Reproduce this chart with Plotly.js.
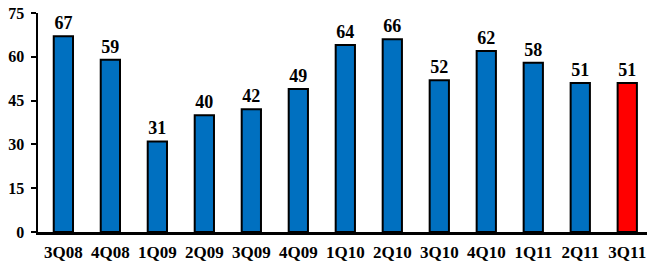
<!DOCTYPE html>
<html>
<head>
<meta charset="utf-8">
<script src="https://cdn.plot.ly/plotly-3.0.1.min.js"></script>
<style>html,body{margin:0;padding:0;background:#fff;}#chart{width:647px;height:266px;}</style>
</head>
<body>
<div id="chart"></div>
<script>
const categories = ["3Q08","4Q08","1Q09","2Q09","3Q09","4Q09","1Q10","2Q10","3Q10","4Q10","1Q11","2Q11","3Q11"];
const values = [67,59,31,40,42,49,64,66,52,62,58,51,51];
const yTicks = [0,15,30,45,60,75];

const colors = categories.map((c,i)=> i === categories.length-1 ? "#FF0000" : "#0070C0");
const font = "Liberation Serif";

const trace = {
  type: "bar",
  x: categories,
  y: values,
  marker: {color: colors, line: {color: "#000", width: 2}},
  text: values.map(String),
  textposition: "outside",
  cliponaxis: false,
  constraintext: "none",
  textfont: {family: font, size: 18, color: "#000", weight: "bold"},
  hoverinfo: "none"
};

const layout = {
  width: 647, height: 266,
  margin: {l: 38, r: 0, t: 13, b: 34},
  paper_bgcolor: "#fff", plot_bgcolor: "#fff",
  bargap: 0.59,
  showlegend: false,
  xaxis: {
    type: "category",
    range: [-0.54, 12.42],
    showline: true, linecolor: "#000", linewidth: 2.5,
    ticks: "", showgrid: false, zeroline: false,
    tickfont: {family: font, size: 17, color: "#000", weight: "bold"},
    ticklabelstandoff: 3
  },
  yaxis: {
    range: [0, 75],
    tickvals: yTicks,
    showline: true, linecolor: "#000", linewidth: 2.5,
    ticks: "outside", ticklen: 5, tickwidth: 2, tickcolor: "#000",
    showgrid: false, zeroline: false,
    tickfont: {family: font, size: 16, color: "#000", weight: "bold"},
    ticklabelstandoff: 3
  }
};

Plotly.newPlot("chart", [trace], layout, {displayModeBar: false, staticPlot: true});
</script>
</body>
</html>
